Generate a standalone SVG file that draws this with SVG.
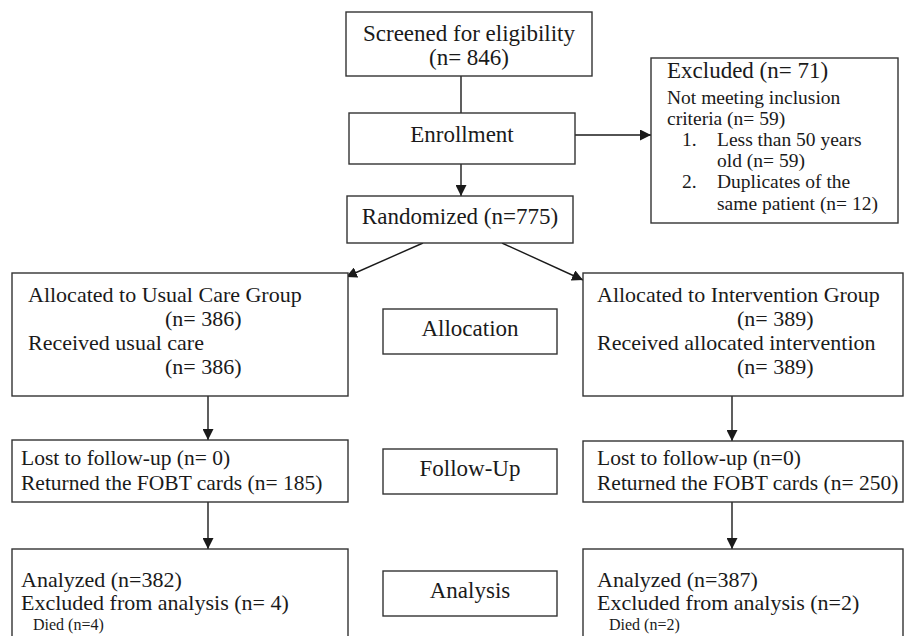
<svg xmlns="http://www.w3.org/2000/svg" width="905" height="636" viewBox="0 0 905 636">
<defs>
<marker id="ah" viewBox="0 0 10 10" refX="10" refY="5" markerWidth="11" markerHeight="11" markerUnits="userSpaceOnUse" orient="auto">
<path d="M0,0 L10,5 L0,10 Z" fill="#1a1a1a"/>
</marker>
<style>
rect{fill:#fff;stroke:#333;stroke-width:1.4}
text{font-family:"Liberation Serif","Times New Roman",serif;fill:#1a1a1a}
.m{font-size:23px}
.a{font-size:22px}
.f{font-size:21.5px}
.s{font-size:19.5px}
.d{font-size:16px}
.c{text-anchor:middle}
.conn line{stroke:#1a1a1a;stroke-width:1.4}
</style>
</defs>
<rect x="0" y="0" width="905" height="636" style="stroke:none;fill:#fff"/>
<g class="conn">
<line x1="461" y1="76" x2="461" y2="113"/>
<line x1="575" y1="135" x2="651" y2="135" marker-end="url(#ah)"/>
<line x1="461" y1="164" x2="461" y2="196" marker-end="url(#ah)"/>
<line x1="423" y1="243" x2="346" y2="277" marker-end="url(#ah)"/>
<line x1="502" y1="243" x2="583" y2="280" marker-end="url(#ah)"/>
<line x1="208" y1="396" x2="208" y2="440" marker-end="url(#ah)"/>
<line x1="208" y1="502" x2="208" y2="549" marker-end="url(#ah)"/>
<line x1="732" y1="396" x2="732" y2="441" marker-end="url(#ah)"/>
<line x1="732" y1="502" x2="732" y2="549" marker-end="url(#ah)"/>
</g>
<g id="screened">
<rect x="346" y="12" width="246" height="64"/>
<text class="m c" x="469" y="41">Screened for eligibility</text>
<text class="m c" x="469" y="65">(n= 846)</text>
</g>
<g id="enrollment">
<rect x="349" y="113" width="226" height="51"/>
<text class="m c" x="462" y="142">Enrollment</text>
</g>
<g id="excluded">
<rect x="651" y="58" width="247" height="165"/>
<text class="m" x="667" y="78">Excluded (n= 71)</text>
<text class="s" x="667" y="104">Not meeting inclusion</text>
<text class="s" x="667" y="125">criteria (n= 59)</text>
<text class="s" x="682" y="146">1.</text>
<text class="s" x="717" y="146">Less than 50 years</text>
<text class="s" x="717" y="167">old (n= 59)</text>
<text class="s" x="682" y="188">2.</text>
<text class="s" x="717" y="188">Duplicates of the</text>
<text class="s" x="717" y="210">same patient (n= 12)</text>
</g>
<g id="randomized">
<rect x="347" y="196" width="226" height="47"/>
<text class="m c" x="460" y="224">Randomized (n=775)</text>
</g>
<g id="usual-care">
<rect x="12" y="273" width="336" height="123"/>
<text class="a" x="28" y="302">Allocated to Usual Care Group</text>
<text class="a" x="165" y="326">(n= 386)</text>
<text class="a" x="28" y="350">Received usual care</text>
<text class="a" x="165" y="374">(n= 386)</text>
</g>
<g id="allocation">
<rect x="383" y="309" width="174" height="45"/>
<text class="m c" x="470" y="336">Allocation</text>
</g>
<g id="intervention">
<rect x="583" y="273" width="320" height="123"/>
<text class="a" x="597" y="302">Allocated to Intervention Group</text>
<text class="a" x="737" y="326">(n= 389)</text>
<text class="a" x="597" y="350">Received allocated intervention</text>
<text class="a" x="737" y="374">(n= 389)</text>
</g>
<g id="followup-usual">
<rect x="12" y="440" width="336" height="62"/>
<text class="f" x="21" y="465">Lost to follow-up (n= 0)</text>
<text class="f" x="21" y="490">Returned the FOBT cards (n= 185)</text>
</g>
<g id="followup">
<rect x="383" y="449" width="174" height="45"/>
<text class="m c" x="470" y="476">Follow-Up</text>
</g>
<g id="followup-intervention">
<rect x="583" y="441" width="320" height="61"/>
<text class="f" x="597" y="465">Lost to follow-up (n=0)</text>
<text class="f" x="597" y="490">Returned the FOBT cards (n= 250)</text>
</g>
<g id="analyzed-usual">
<rect x="12" y="549" width="336" height="100"/>
<text class="a" x="21" y="587">Analyzed (n=382)</text>
<text class="a" x="21" y="610">Excluded from analysis (n= 4)</text>
<text class="d" x="33" y="630">Died (n=4)</text>
</g>
<g id="analysis">
<rect x="383" y="571" width="174" height="45"/>
<text class="m c" x="470" y="598">Analysis</text>
</g>
<g id="analyzed-intervention">
<rect x="583" y="549" width="320" height="100"/>
<text class="a" x="597" y="587">Analyzed (n=387)</text>
<text class="a" x="597" y="610">Excluded from analysis (n=2)</text>
<text class="d" x="609" y="630">Died (n=2)</text>
</g>
</svg>
